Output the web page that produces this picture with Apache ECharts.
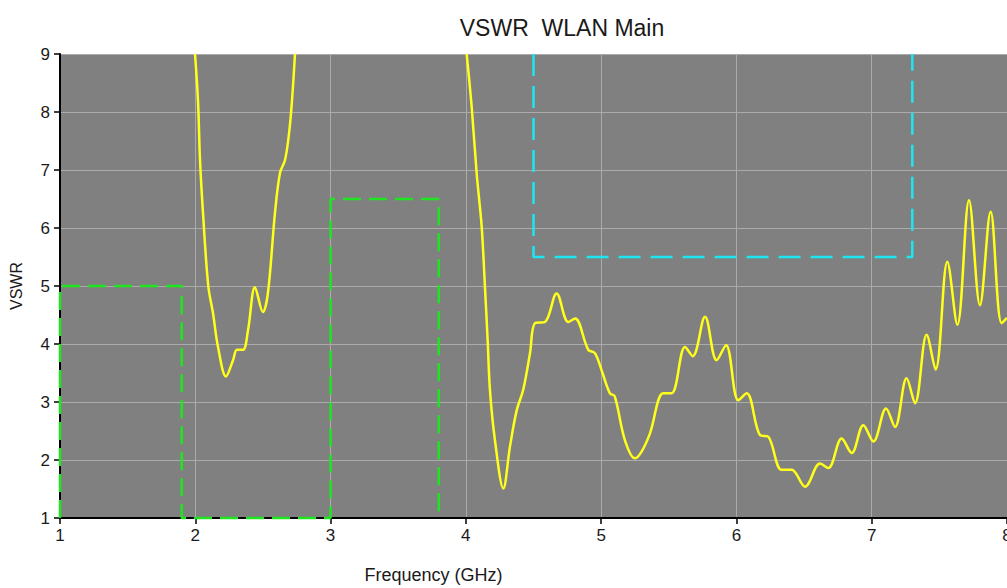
<!DOCTYPE html>
<html lang="en">
<head>
    <meta charset="UTF-8">
    <title>VSWR WLAN Main</title>
    <script src="https://cdn.jsdelivr.net/npm/echarts@6/dist/echarts.min.js"></script>
    <style>
html, body{
    margin:0;
    padding:0;
    background:#fff;
}
#chart{
    width:1007px;
    height:588px;
}
    </style>
</head>
<body>
<div id="chart"></div>
<script type="text/javascript">
    /* measured curve, 2.0 - 2.75 GHz */
    var lowFreq = [1.998, 2.020, 2.035, 2.057, 2.096, 2.131, 2.168, 2.227, 2.279, 2.308, 2.353, 2.390, 2.441, 2.500, 2.537, 2.589, 2.626, 2.663, 2.693, 2.715, 2.737];
    var lowVswr = [9.0, 8.2, 7.17, 6.26, 5.0, 4.53, 3.95, 3.44, 3.72, 3.90, 3.90, 4.24, 4.98, 4.55, 4.88, 6.26, 6.95, 7.17, 7.63, 8.2, 9.0];

    /* measured curve, 4.0 - 8.0 GHz */
    var highFreq = [4.006, 4.043, 4.080, 4.117, 4.141, 4.161, 4.178, 4.215, 4.277, 4.326, 4.376, 4.424, 4.474, 4.511, 4.585, 4.671, 4.757, 4.807, 4.905, 4.955, 5.010, 5.065, 5.100, 5.176, 5.250, 5.300, 5.361, 5.459, 5.521, 5.620, 5.677, 5.768, 5.854, 5.923, 6.014, 6.076, 6.174, 6.236, 6.334, 6.408, 6.507, 6.618, 6.679, 6.778, 6.852, 6.938, 7.012, 7.106, 7.172, 7.258, 7.320, 7.406, 7.472, 7.559, 7.633, 7.719, 7.800, 7.879, 7.960, 8.000];
    var highVswr = [9.0, 8.09, 6.94, 6.02, 4.99, 4.07, 3.21, 2.34, 1.51, 2.23, 2.86, 3.21, 3.84, 4.36, 4.38, 4.87, 4.38, 4.44, 3.90, 3.84, 3.50, 3.15, 3.10, 2.34, 2.03, 2.15, 2.46, 3.15, 3.15, 3.95, 3.79, 4.47, 3.72, 3.98, 3.03, 3.15, 2.43, 2.40, 1.83, 1.83, 1.54, 1.94, 1.86, 2.37, 2.12, 2.60, 2.32, 2.89, 2.57, 3.41, 2.98, 4.16, 3.56, 5.42, 4.33, 6.48, 4.67, 6.28, 4.36, 4.45];

    /* green limit mask */
    var greenFreq = [1, 1, 1.9, 1.9, 3, 3, 3.8, 3.8];
    var greenVswr = [1, 5, 5, 1, 1, 6.5, 6.5, 1];

    /* cyan limit mask */
    var cyanFreq = [4.5, 4.5, 7.3, 7.3];
    var cyanVswr = [9, 5.5, 5.5, 9];

    function zip(xs, ys){
        var out = [];
        for (var i = 0; i < xs.length; i++) {
            out.push([xs[i], ys[i]]);
        }
        return out;
    }

    var curveData = zip(lowFreq, lowVswr).concat([[3.3, '-']], zip(highFreq, highVswr));

    var myChart = echarts.init(document.getElementById('chart'), null, {renderer: 'svg'});
    myChart.setOption({
        backgroundColor: '#ffffff',
        animation: false,
        title: {
            text: 'VSWR  WLAN Main',
            left: 557,
            top: 11,
            textAlign: 'center',
            textStyle: {
                fontFamily: 'Liberation Sans',
                fontSize: 23,
                fontWeight: 'normal',
                color: '#1a1a1a'
            }
        },
        grid: {
            left: 60,
            right: 0,
            top: 54,
            bottom: 70,
            show: true,
            backgroundColor: '#808080',
            borderWidth: 0,
            outerBoundsMode: 'none'
        },
        xAxis: {
            type: 'value',
            min: 1,
            max: 8,
            interval: 1,
            name: 'Frequency (GHz)',
            nameLocation: 'middle',
            nameGap: 48,
            nameTextStyle: {
                fontFamily: 'Liberation Sans',
                fontSize: 18,
                color: '#1a1a1a',
                padding: [0, 200, 0, 0]
            },
            axisLine: {
                onZero: false,
                lineStyle: {color: '#000', width: 2}
            },
            axisTick: {
                show: true,
                length: 6,
                lineStyle: {color: '#000', width: 1.5}
            },
            axisLabel: {
                margin: 9,
                fontFamily: 'Liberation Sans',
                fontSize: 17,
                color: '#1a1a1a',
                showMaxLabel: true,
                hideOverlap: false
            },
            splitLine: {
                show: true,
                lineStyle: {color: '#ababab', width: 1}
            }
        },
        yAxis: {
            type: 'value',
            min: 1,
            max: 9,
            interval: 1,
            name: 'VSWR',
            nameLocation: 'middle',
            nameGap: 36,
            nameTextStyle: {
                fontFamily: 'Liberation Sans',
                fontSize: 16,
                color: '#1a1a1a'
            },
            axisLine: {
                show: true,
                onZero: false,
                lineStyle: {color: '#000', width: 2}
            },
            axisTick: {
                show: true,
                length: 6,
                lineStyle: {color: '#000', width: 1.5}
            },
            axisLabel: {
                margin: 10,
                fontFamily: 'Liberation Sans',
                fontSize: 17,
                color: '#1a1a1a'
            },
            splitLine: {
                show: true,
                lineStyle: {color: '#ababab', width: 1}
            }
        },
        series: [
            {
                name: 'Green mask',
                type: 'line',
                data: zip(greenFreq, greenVswr),
                showSymbol: false,
                clip: false,
                lineStyle: {color: '#1ee61e', width: 2.5, type: [18, 8]},
                z: 3
            },
            {
                name: 'Cyan mask',
                type: 'line',
                data: zip(cyanFreq, cyanVswr),
                showSymbol: false,
                lineStyle: {color: '#1ee6f0', width: 2.5, type: [22, 10]},
                z: 3
            },
            {
                name: 'VSWR',
                type: 'line',
                data: curveData,
                showSymbol: false,
                smooth: 0.35,
                connectNulls: false,
                lineStyle: {color: '#ffff1a', width: 2.5},
                z: 4
            }
        ]
    });
</script>
</body>
</html>
